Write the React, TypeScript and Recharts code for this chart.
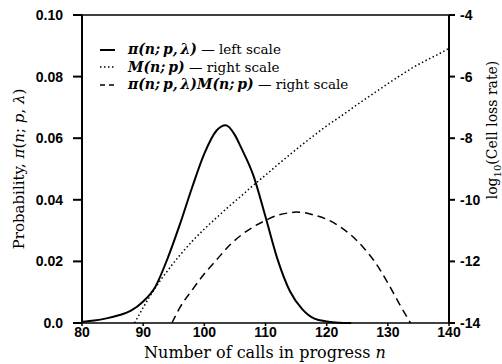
import React from "react";
import { LineChart, Line, XAxis, YAxis, ReferenceLine } from "recharts";

// pi(n; p, lambda) - left scale
const piN = [80, 82, 84, 86, 88, 90, 92, 94, 96, 98, 100, 102, 103.5, 105, 106, 108, 110, 112, 114, 116, 118, 120, 122, 124];
const piVals = [0.0004, 0.0008, 0.0015, 0.0025, 0.004, 0.007, 0.0118, 0.021, 0.032, 0.044, 0.055, 0.0625, 0.0642, 0.061, 0.057, 0.048, 0.0345, 0.0205, 0.0103, 0.0045, 0.0014, 0.0005, 0.0001, 0];

// M(n; p) - right scale (log10)
const mN = [88.6, 90, 92, 94, 96, 98, 100, 102, 104, 106, 108, 110, 112, 114, 116, 118, 120, 122, 124, 126, 128, 130, 132, 134, 136, 138, 140];
const mVals = [-14, -13.5, -12.85, -12.3, -11.8, -11.35, -10.95, -10.58, -10.22, -9.88, -9.53, -9.2, -8.86, -8.53, -8.21, -7.9, -7.6, -7.33, -7.05, -6.77, -6.5, -6.23, -5.97, -5.72, -5.5, -5.3, -5.08];

// pi * M - right scale (log10)
const prodN = [94.7, 96, 98, 100, 102, 104, 106, 108, 110, 112, 114, 115, 116, 118, 120, 122, 124, 126, 128, 130, 132, 133.7];
const prodVals = [-14, -13.5, -12.93, -12.4, -11.95, -11.5, -11.15, -10.88, -10.67, -10.5, -10.42, -10.4, -10.41, -10.5, -10.63, -10.85, -11.15, -11.55, -12.05, -12.7, -13.42, -14];

const xTicks = [80, 90, 100, 110, 120, 130, 140];
const leftTicks = [0, 0.02, 0.04, 0.06, 0.08, 0.1];
const rightTicks = [-14, -12, -10, -8, -6, -4];

const legendItems = [
  { key: "pi", math: "π(n;\u2009p,\u2009λ)", rest: " — left scale", dash: "" },
  { key: "m", math: "M(n;\u2009p)", rest: " — right scale", dash: "1.5 2.5" },
  { key: "prod", math: "π(n;\u2009p,\u2009λ)M(n;\u2009p)", rest: " — right scale", dash: "5 4" },
];

// merge the three series on a shared n column
const byN = new Map<number, any>();
const put = (ns: number[], vs: number[], k: string) =>
  ns.forEach((n, i) => {
    const row = byN.get(n) || { n };
    row[k] = vs[i];
    byN.set(n, row);
  });
put(piN, piVals, "pi");
put(mN, mVals, "m");
put(prodN, prodVals, "prod");
const data = Array.from(byN.values()).sort((a, b) => a.n - b.n);

const serif = "'DejaVu Serif', serif";
const sans = "'Liberation Sans', Arial, sans-serif";
const tickStyle = { fill: "#000", fontSize: 14, fontFamily: sans, fontWeight: 600 };

const XTitle = () => (
  <text x={265} y={358} textAnchor="middle" fontFamily={serif} fontSize={16} fill="#000">
    Number of calls in progress <tspan fontStyle="italic">n</tspan>
  </text>
);

const LeftTitle = () => (
  <text transform="translate(24,169) rotate(-90)" textAnchor="middle" fontFamily={serif} fontSize={15} fill="#000">
    Probability, <tspan fontStyle="italic">π</tspan>(<tspan fontStyle="italic">n</tspan>;{" "}
    <tspan fontStyle="italic">p</tspan>, <tspan fontStyle="italic">λ</tspan>)
  </text>
);

const RightTitle = () => (
  <text transform="translate(497,130) rotate(-90)" textAnchor="middle" fontFamily={serif} fontSize={14} fill="#000">
    log<tspan fontSize={10} dy={4}>10</tspan>
    <tspan dy={-4}>(Cell loss rate)</tspan>
  </text>
);

const LegendBox = () => (
  <div
    style={{
      position: "absolute",
      left: 99,
      top: 41,
      fontFamily: serif,
      lineHeight: "17.5px",
      color: "#000",
      pointerEvents: "none",
    }}
  >
    {legendItems.map((it) => (
      <div key={it.key} style={{ display: "flex", alignItems: "center", whiteSpace: "pre" }}>
        <svg width={29} height={10}>
          <line x1={1} y1={5} x2={16} y2={5} stroke="#000" strokeWidth={it.dash ? 1.5 : 2} strokeDasharray={it.dash} />
        </svg>
        <span style={{ fontSize: 14, fontWeight: "bold", fontStyle: "italic", whiteSpace: "pre" }}>{it.math}</span>
        <span style={{ fontSize: 13.5, whiteSpace: "pre" }}>{it.rest}</span>
      </div>
    ))}
  </div>
);

export default function App() {
  return (
    <div style={{ position: "absolute", left: 0, top: 0, width: 502, height: 364, background: "#fff" }}>
      <LineChart width={502} height={364} data={data} margin={{ top: 15, right: 0, left: 0, bottom: 0 }}>
        <XAxis
          dataKey="n"
          type="number"
          domain={[80, 140]}
          ticks={xTicks}
          height={41}
          tick={tickStyle}
          tickSize={3}
          tickMargin={1}
          stroke="#000"
          strokeWidth={1.5}
          label={<XTitle />}
        />
        <YAxis
          yAxisId="left"
          domain={[0, 0.1]}
          ticks={leftTicks}
          width={82}
          tick={tickStyle}
          tickSize={9}
          tickMargin={10}
          tickFormatter={(v: number) => (v === 0 ? "0.0" : v.toFixed(2))}
          stroke="#000"
          strokeWidth={2}
          label={<LeftTitle />}
        />
        <YAxis
          yAxisId="right"
          orientation="right"
          domain={[-14, -4]}
          ticks={rightTicks}
          width={53}
          tick={tickStyle}
          tickSize={6}
          tickMargin={5}
          stroke="#000"
          strokeWidth={2}
          label={<RightTitle />}
        />
        <ReferenceLine yAxisId="left" y={0.1} stroke="#000" strokeWidth={1.5} />
        <Line
          yAxisId="left"
          type="monotone"
          dataKey="pi"
          stroke="#000"
          strokeWidth={2}
          dot={false}
          connectNulls
          isAnimationActive={false}
        />
        <Line
          yAxisId="right"
          type="monotone"
          dataKey="m"
          stroke="#000"
          strokeWidth={1.5}
          strokeDasharray="1.5 2.5"
          dot={false}
          connectNulls
          isAnimationActive={false}
        />
        <Line
          yAxisId="right"
          type="monotone"
          dataKey="prod"
          stroke="#000"
          strokeWidth={1.5}
          strokeDasharray="8 5"
          dot={false}
          connectNulls
          isAnimationActive={false}
        />
      </LineChart>
      <LegendBox />
    </div>
  );
}
